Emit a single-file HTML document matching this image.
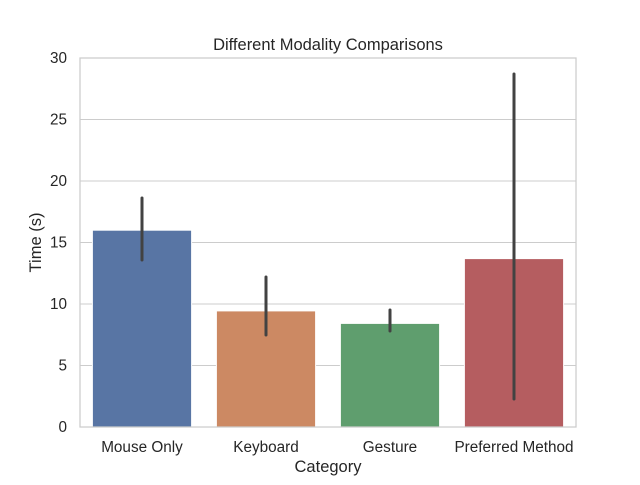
<!DOCTYPE html>
<html><head><meta charset="utf-8"><style>
html,body{margin:0;padding:0;background:#fff;}
svg text{font-family:"Liberation Sans","DejaVu Sans",sans-serif;fill:#262626;}
</style></head><body>
<svg width="640" height="480" viewBox="0 0 640 480" xmlns="http://www.w3.org/2000/svg">
<rect width="640" height="480" fill="#fff"/>
<g stroke="#cccccc" stroke-width="1">
<line x1="80" x2="576" y1="427" y2="427"/>
<line x1="80" x2="576" y1="365.5" y2="365.5"/>
<line x1="80" x2="576" y1="304" y2="304"/>
<line x1="80" x2="576" y1="242.5" y2="242.5"/>
<line x1="80" x2="576" y1="181" y2="181"/>
<line x1="80" x2="576" y1="119.5" y2="119.5"/>
<line x1="80" x2="576" y1="58" y2="58"/>
</g>
<g stroke="#fff" stroke-width="1">
<rect x="92.4" y="230.2" width="99.2" height="196.8" fill="#5875a4"/>
<rect x="216.4" y="310.9" width="99.2" height="116.1" fill="#cc8963"/>
<rect x="340.4" y="323.4" width="99.2" height="103.6" fill="#5f9e6e"/>
<rect x="464.4" y="258.6" width="99.2" height="168.4" fill="#b55d60"/>
</g>
<g stroke="#424242" stroke-width="3" stroke-linecap="round">
<line x1="142" x2="142" y1="260" y2="198"/>
<line x1="266" x2="266" y1="335" y2="277"/>
<line x1="390" x2="390" y1="331" y2="310"/>
<line x1="514" x2="514" y1="399" y2="74"/>
</g>
<rect x="80" y="58" width="496" height="369" fill="none" stroke="#cccccc" stroke-width="1.25"/>
<g font-size="15.3" text-anchor="end">
<text x="67" y="432">0</text>
<text x="67" y="370.5">5</text>
<text x="67" y="309">10</text>
<text x="67" y="247.5">15</text>
<text x="67" y="186">20</text>
<text x="67" y="124.5">25</text>
<text x="67" y="63">30</text>
</g>
<g font-size="15.3" text-anchor="middle">
<text x="142" y="452">Mouse Only</text>
<text x="266" y="452">Keyboard</text>
<text x="390" y="452">Gesture</text>
<text x="514" y="452">Preferred Method</text>
<text x="328" y="472" font-size="16.5">Category</text>
<text x="328" y="50" font-size="16.5">Different Modality Comparisons</text>
<text transform="translate(41,242.5) rotate(-90)" font-size="16.5">Time (s)</text>
</g>
</svg>
</body></html>
